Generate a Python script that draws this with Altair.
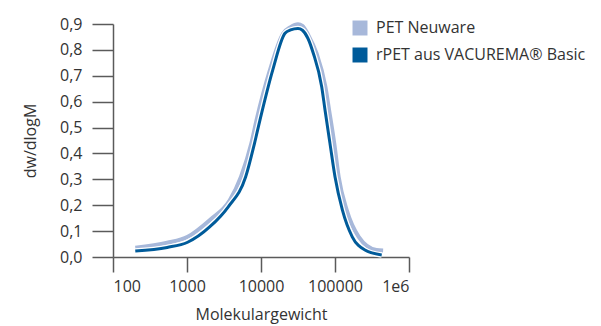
import altair as alt
import pandas as pd

# Molecular weight (x) and dw/dlogM (y)
light_m = [200, 540, 1020, 2040, 3800, 5370, 7410, 8710, 13200, 20000, 25100,
           31600, 36300, 43600, 56200, 74100, 83200, 97700, 112000, 144000, 209000, 363000, 447000]
light_v = [0.036, 0.055, 0.078, 0.143, 0.220, 0.310, 0.439, 0.529, 0.722, 0.864, 0.888,
           0.899, 0.893, 0.857, 0.787, 0.658, 0.568, 0.439, 0.310, 0.181, 0.078, 0.027, 0.025]

dark_m = [200, 540, 1020, 2040, 3610, 6210, 8170, 9680, 14400, 21100, 25100,
          31600, 36300, 43000, 50900, 66100, 73300, 85500, 100000, 126000, 171000, 254000, 428000]
dark_v = [0.023, 0.037, 0.057, 0.117, 0.194, 0.310, 0.439, 0.529, 0.722, 0.864, 0.877,
          0.883, 0.876, 0.845, 0.787, 0.658, 0.568, 0.439, 0.310, 0.181, 0.078, 0.027, 0.008]

series = ["PET Neuware", "rPET aus VACUREMA® Basic"]
colors = ["#a7b8da", "#005b9a"]
x_ticks = [100, 1000, 10000, 100000, 1000000]
y_ticks = [0, 0.1, 0.2, 0.3, 0.4, 0.5, 0.6, 0.7, 0.8, 0.9]

df = pd.concat([
    pd.DataFrame({"M": light_m, "v": light_v, "s": series[0]}),
    pd.DataFrame({"M": dark_m, "v": dark_v, "s": series[1]}),
])

FONT = "Open Sans"

x = alt.X("M:Q", scale=alt.Scale(type="log", domain=[100, 1000000]),
          axis=alt.Axis(values=x_ticks, title="Molekulargewicht",
                        labelExpr="datum.value >= 1000000 ? '1e6' : format(datum.value, 'd')",
                        tickSize=15, labelPadding=6, grid=False,
                        titleY=57, titleBaseline="middle"))
y = alt.Y("v:Q", scale=alt.Scale(domain=[0, 0.9], nice=False),
          axis=alt.Axis(values=y_ticks, title="dw/dlogM",
                        labelExpr="replace(format(datum.value, '.1f'), '.', ',')",
                        tickSize=21, labelPadding=10, grid=False,
                        titleX=-83, titleY=116.5, titleAngle=-90,
                        titleAlign="center", titleBaseline="middle"))
color = alt.Color("s:N", scale=alt.Scale(domain=series, range=colors),
                  legend=alt.Legend(title=None, orient="none", legendX=239, legendY=-4,
                                    symbolType="square", symbolSize=56,
                                    symbolStrokeWidth=7.5, symbolOpacity=1,
                                    labelFontSize=16, labelFont=FONT, labelColor="#333333",
                                    labelOffset=8, rowPadding=-15, labelLimit=400))

base = alt.Chart(df)
light = base.transform_filter(alt.datum.s == series[0]).mark_line(
    strokeWidth=4, interpolate="monotone").encode(x=x, y=y, color=color)
halo = base.transform_filter(alt.datum.s == series[1]).mark_line(
    strokeWidth=5.5, interpolate="monotone", color="white").encode(x=x, y=y)
dark = base.transform_filter(alt.datum.s == series[1]).mark_line(
    strokeWidth=3, interpolate="monotone").encode(x=x, y=y, color=color)

chart = alt.layer(light, halo, dark).properties(
    width=296, height=233,
    background="white",
    autosize=alt.AutoSizeParams(type="none"),
    padding={"left": 113, "top": 24, "right": 192, "bottom": 69},
).configure_view(stroke=None).configure_axis(
    labelFont=FONT, titleFont=FONT, labelFontSize=16, titleFontSize=16,
    labelColor="#333333", titleColor="#333333", titleFontWeight="normal",
    domainColor="#5a5a5a", tickColor="#5a5a5a", domainWidth=1.5, tickWidth=1.5,
)

chart.save("out.html", embed_options={"renderer": "svg", "actions": False})
